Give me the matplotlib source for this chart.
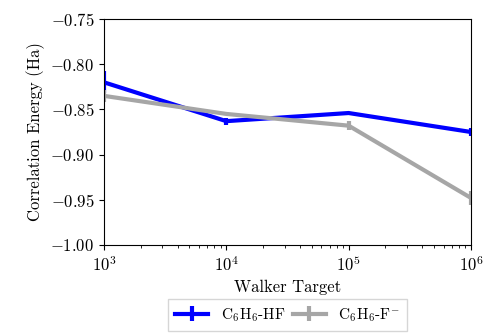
import matplotlib
matplotlib.use('Agg')
import matplotlib.pyplot as plt

plt.rcParams['font.family'] = 'serif'
plt.rcParams['font.serif'] = ['cmr10']
plt.rcParams['mathtext.fontset'] = 'cm'
plt.rcParams['axes.formatter.use_mathtext'] = True
plt.rcParams['font.size'] = 12

walkers = [1e3, 1e4, 1e5, 1e6]
hf_energy = [-0.820, -0.863, -0.854, -0.875]
hf_err = [0.012, 0.004, 0.001, 0.004]
f_energy = [-0.835, -0.855, -0.868, -0.948]
f_err = [0.007, 0.001, 0.005, 0.008]

fig = plt.figure(figsize=(4.86, 3.35), dpi=100)
ax = fig.add_axes([0.214, 0.269, 0.755, 0.674])

ax.errorbar(walkers, hf_energy, yerr=hf_err, c='#0000ff', lw=3,
            label=r'$\mathrm{C_6H_6}$-HF')
ax.errorbar(walkers, f_energy, yerr=f_err, c='#a6a6a6', lw=3,
            label=r'$\mathrm{C_6H_6}$-F$^{-}$')

ax.set_xscale('log')
ax.set_xlim(1e3, 1e6)
ax.set_ylim(-1.0, -0.75)
ax.set_yticks([-1.0, -0.95, -0.9, -0.85, -0.8, -0.75])
ax.set_yticklabels([r'$-1.00$', r'$-0.95$', r'$-0.90$', r'$-0.85$', r'$-0.80$', r'$-0.75$'])
ax.set_xlabel('Walker Target')
ax.set_ylabel('Correlation Energy (Ha)')

ax.legend(loc='upper center', bbox_to_anchor=(0.5, -0.22), ncol=2,
          fontsize=11, fancybox=False, handlelength=2.2, columnspacing=0.5,
          borderpad=0.45, handletextpad=0.8, borderaxespad=0.3)

fig.savefig('out.png', dpi=100)
